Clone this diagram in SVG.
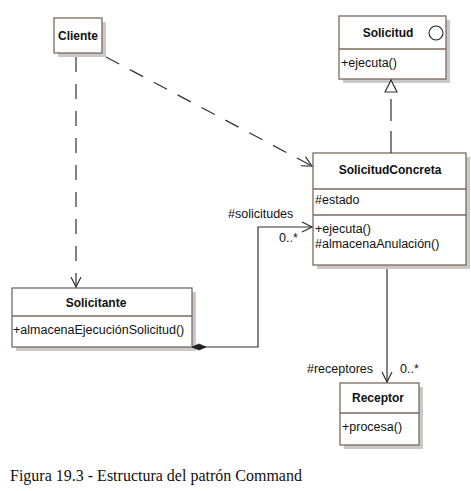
<svg xmlns="http://www.w3.org/2000/svg" width="471" height="491" viewBox="0 0 471 491">
<defs>
<marker id="open" viewBox="0 0 12 12" refX="11" refY="6" markerWidth="12" markerHeight="12" markerUnits="userSpaceOnUse" orient="auto">
<path d="M1,1 L11,6 L1,11" fill="none" stroke="#333" stroke-width="1.2"/>
</marker>
<marker id="tri" viewBox="0 0 14 14" refX="13" refY="7" markerWidth="14" markerHeight="14" markerUnits="userSpaceOnUse" orient="auto">
<path d="M1,1 L13,7 L1,13 Z" fill="#fff" stroke="#333" stroke-width="1.2"/>
</marker>
<marker id="dia" viewBox="0 0 16 8" refX="1" refY="4" markerWidth="16" markerHeight="8" markerUnits="userSpaceOnUse" orient="auto">
<path d="M1,4 L8,1 L15,4 L8,7 Z" fill="#222" stroke="#222" stroke-width="0.8"/>
</marker>
</defs>
<style>
.sh{fill:#c9c9c9}
.bx{fill:#fff;stroke:#7a6a5a;stroke-width:1.3}
.dv{stroke:#7a6a5a;stroke-width:1.3}
.t{font-family:"Liberation Sans",Arial,sans-serif;font-size:12px;font-weight:bold;fill:#111;text-anchor:middle}
.m{font-family:"Liberation Sans",Arial,sans-serif;font-size:12.5px;fill:#111}
.l{font-family:"Liberation Sans",Arial,sans-serif;font-size:12.5px;fill:#111}
.c{stroke:#333;stroke-width:1.2;fill:none}
.d{stroke-dasharray:15,12}
.cap{font-family:"Liberation Serif","Times New Roman",serif;font-size:16px;fill:#111}
</style>
<rect width="471" height="491" fill="#fff"/>
<g id="Cliente">
<rect class="sh" x="58" y="22" width="48" height="35"/>
<rect class="bx" x="54" y="18" width="48" height="35"/>
<text class="t" x="78" y="40">Cliente</text>
</g>
<g id="Solicitud">
<rect class="sh" x="343" y="20" width="107" height="63"/>
<rect class="bx" x="339" y="16" width="107" height="63"/>
<line class="dv" x1="339" y1="49" x2="446" y2="49"/>
<text class="t" x="388" y="37">Solicitud</text>
<circle cx="436" cy="33" r="7" fill="none" stroke="#222" stroke-width="1.1"/>
<text class="m" x="341" y="67">+ejecuta()</text>
</g>
<g id="SolicitudConcreta">
<rect class="sh" x="317" y="157" width="153" height="112"/>
<rect class="bx" x="313" y="153" width="153" height="112"/>
<line class="dv" x1="313" y1="189" x2="466" y2="189"/>
<line class="dv" x1="313" y1="215" x2="466" y2="215"/>
<text class="t" x="390" y="174">SolicitudConcreta</text>
<text class="m" x="315" y="204">#estado</text>
<text class="m" x="315" y="233">+ejecuta()</text>
<text class="m" x="315" y="248">#almacenaAnulación()</text>
</g>
<g id="Solicitante">
<rect class="sh" x="16" y="292" width="180" height="59"/>
<rect class="bx" x="12" y="288" width="180" height="59"/>
<line class="dv" x1="12" y1="316" x2="192" y2="316"/>
<text class="t" x="96" y="307">Solicitante</text>
<text class="m" x="13" y="334">+almacenaEjecuciónSolicitud()</text>
</g>
<g id="Receptor">
<rect class="sh" x="344" y="387" width="79" height="62"/>
<rect class="bx" x="340" y="383" width="79" height="62"/>
<line class="dv" x1="340" y1="413" x2="419" y2="413"/>
<text class="t" x="378" y="402">Receptor</text>
<text class="m" x="342" y="431">+procesa()</text>
</g>
<g id="connectors">
<path class="c d" d="M76,57 V287" marker-end="url(#open)"/>
<path class="c d" d="M106,57 L312,166" marker-end="url(#open)"/>
<path class="c" d="M391,153 V80" stroke-dasharray="22,10" marker-end="url(#tri)"/>
<path class="c" d="M192,347 H258 V227 H312" marker-start="url(#dia)" marker-end="url(#open)"/>
<path class="c" d="M387,269 V382" marker-end="url(#open)"/>
<text class="l" x="228" y="218">#solicitudes</text>
<text class="l" x="279" y="242">0..*</text>
<text class="l" x="307" y="373">#receptores</text>
<text class="l" x="400" y="373">0..*</text>
</g>
<text class="cap" x="10" y="481">Figura 19.3 - Estructura del patrón Command</text>
</svg>
